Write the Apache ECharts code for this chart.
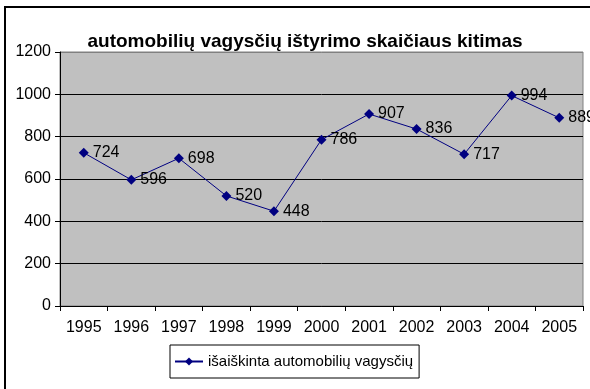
<!DOCTYPE html>
<html>
<head>
<meta charset="utf-8">
<style>
  html, body { margin: 0; padding: 0; background: #fff; }
  #chart { width: 590px; height: 389px; }
</style>
<script src="https://cdn.jsdelivr.net/npm/echarts@6/dist/echarts.min.js"></script>
</head>
<body>
<div id="chart"></div>
<script>
const years = ['1995', '1996', '1997', '1998', '1999', '2000', '2001', '2002', '2003', '2004', '2005'];
const solvedThefts = [724, 596, 698, 520, 448, 786, 907, 836, 717, 994, 889];
const seriesName = 'išaiškinta automobilių vagysčių';
const chartTitle = 'automobilių vagysčių ištyrimo skaičiaus kitimas';

const FONT = '"Liberation Sans", Arial, sans-serif';
const chart = echarts.init(document.getElementById('chart'), null, { renderer: 'canvas' });

chart.setOption({
  animation: false,
  backgroundColor: '#ffffff',
  textStyle: { fontFamily: FONT },
  graphic: [
    {
      type: 'rect',
      shape: { x: 5, y: 7, width: 600, height: 400 },
      style: { fill: 'none', stroke: '#000', lineWidth: 2 },
      silent: true,
      z: -1
    }
  ],
  title: {
    text: chartTitle,
    left: 300,
    textAlign: 'center',
    top: 27,
    textStyle: { fontFamily: FONT, fontSize: 19, fontWeight: 'bold', color: '#000' }
  },
  grid: {
    left: 60, right: 7, top: 52, bottom: 83,
    show: true,
    backgroundColor: '#C0C0C0',
    borderColor: '#808080',
    borderWidth: 1
  },
  legend: {
    data: [seriesName],
    left: 170,
    top: 345,
    orient: 'horizontal',
    backgroundColor: '#fff',
    borderColor: '#000',
    borderWidth: 1,
    borderRadius: 0,
    padding: [9, 6, 9, 4],
    itemWidth: 28,
    itemHeight: 10,
    itemGap: 4,
    textStyle: { fontFamily: FONT, fontSize: 15, color: '#000' }
  },
  xAxis: {
    type: 'category',
    data: years,
    boundaryGap: true,
    axisLine: { lineStyle: { color: '#000', width: 1 } },
    axisTick: { show: true, length: 5, interval: 0, lineStyle: { color: '#000' } },
    axisLabel: { interval: 0, margin: 14, fontSize: 16, color: '#000', fontFamily: FONT },
    splitLine: { show: false }
  },
  yAxis: {
    type: 'value',
    min: 0, max: 1200, interval: 200,
    axisLine: { show: true, lineStyle: { color: '#000', width: 1 } },
    axisTick: { show: true, length: 5, lineStyle: { color: '#000' } },
    axisLabel: {
      margin: 9, fontSize: 16, color: '#000', fontFamily: FONT,
      formatter: (v) => String(v)
    },
    splitLine: {
      show: true,
      lineStyle: { color: ['#000', '#000', '#000', '#000', '#000', '#000', '#808080'], width: 1 }
    }
  },
  series: [
    {
      name: seriesName,
      type: 'line',
      data: solvedThefts,
      symbol: 'diamond',
      symbolSize: 10,
      lineStyle: { color: '#000080', width: 1 },
      itemStyle: { color: '#000080' },
      label: {
        show: true,
        position: 'right',
        distance: 4,
        fontSize: 16,
        color: '#000',
        fontFamily: FONT
      }
    }
  ]
});
</script>
</body>
</html>
